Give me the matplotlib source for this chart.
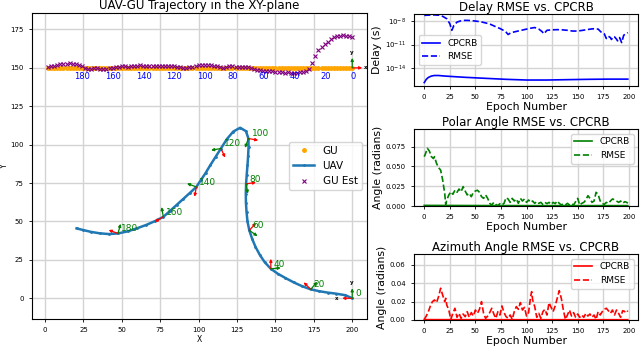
import math
import matplotlib.pyplot as plt
from matplotlib.ticker import NullLocator

# ==============================
# dados da trajetória (XY)
# ==============================
uav_epoch = list(range(0, 200, 4)) + [199]
uav_x = [200, 195.5, 189.5, 184, 178.5, 173, 167.5, 162, 156.5, 151.5,
         147, 143, 139.8, 137, 134.8, 133, 131.8, 131.2, 130.8, 130.7,
         130.9, 131.3, 131.8, 132.2, 132.5, 132.4, 130.8, 127, 122.5, 118.3,
         114.5, 111, 107.5, 104.5, 101.5, 98.5, 94.2, 89.9, 85.6, 81.3,
         77, 71.5, 66, 60, 54, 47.5, 41.5, 35.5, 30, 24.5, 20.5]
uav_y = [0, 2.0, 3.0, 3.7, 4.6, 5.8, 7.8, 10.3, 13.2, 16.0,
         19.2, 23.5, 28.3, 33.5, 38.8, 44.2, 50, 56, 62, 68.2,
         74.5, 80.5, 86.5, 92.5, 98.5, 104, 108.8, 111, 108.5, 103.5,
         97.5, 92, 86.5, 81.5, 77, 72.5, 68.5, 64.6, 60.7, 56.8,
         53, 50.2, 47.8, 45.6, 43.6, 42.2, 41.8, 42.3, 43.2, 44.5, 45.5]

gu_epoch = list(range(0, 200, 2))
gu_x = list(range(200, 0, -2))
gu_y = [150] * len(gu_x)
gu_est_y = [170, 170.5, 171, 171.5, 171, 170.5, 170, 168.5, 167, 165.5,
            163.5, 161.5, 158, 153, 149, 148, 147.5, 147, 146.8, 146.5,
            146.5, 147, 146.8, 147, 147.3, 147.5, 147.8, 148, 148, 148.2,
            148.3, 148.8, 149.3, 150, 150.4, 150.6, 150.8, 150.5, 150.7, 151,
            151, 150.5, 150, 150.3, 151, 151.5, 151.8, 152, 152, 151.7,
            151.7, 151, 150.6, 150.3, 150, 150, 150.3, 150.7, 151, 151,
            151, 151.2, 151.3, 151.2, 151.4, 151.3, 151.5, 151.3, 151.5, 151.7,
            151.5, 151.2, 151, 150.7, 151, 151, 150.5, 150.3, 150, 149.7,
            149.3, 149.5, 149.5, 150, 150, 149.5, 149, 150, 151, 151.8,
            152.3, 152.6, 153, 152.8, 152.6, 152.3, 152, 151.5, 151, 150.8]

# orientação do UAV (graus) nas épocas marcadas
frame_epoch = [0, 20, 40, 60, 80, 100, 120, 140, 160, 180]
frame_x_ang = [180, 135, 90, 48, 8, -10, -65, -100, -150, 160]
frame_y_ang = [90, 50, 5, -35, -80, -110, 190, 160, 100, 75]

# ==============================
# dados dos erros
# ==============================
delay_ep = [0, 5, 10, 15, 18, 22, 25, 27, 29, 32, 36, 40, 45, 50, 55, 60, 65, 70,
            74, 78, 80, 82, 85, 90, 95, 100, 104, 108, 112, 115, 117, 120, 125,
            130, 135, 140, 145, 150, 155, 160, 165, 170, 173, 176, 178, 180, 182,
            183, 185, 186, 188, 189, 191, 193, 195, 197, 199]
delay_rmse = [6.0e-8, 6.5e-8, 6.8e-8, 6.2e-8, 4.5e-8, 2.2e-8, 5e-9, 7e-10, 3e-9,
              8e-9, 1.2e-8, 1.35e-8, 1.3e-8, 1.1e-8, 9e-9, 6.3e-9, 4e-9, 2e-9,
              1.2e-9, 6.3e-10, 4e-10, 2e-10, 3.5e-10, 5e-10, 7e-10, 1e-9, 1.3e-9,
              1.6e-9, 1e-9, 5e-10, 2.5e-10, 7e-10, 8e-10, 8.5e-10, 8e-10, 7e-10,
              5.6e-10, 5.6e-10, 7e-10, 9e-10, 1.1e-9, 1e-9, 4e-10, 2.5e-10, 6e-11,
              1.2e-10, 8e-11, 4.5e-11, 1.1e-10, 1e-10, 5e-11, 3e-11, 8e-11, 1.8e-11,
              1.6e-10, 2.5e-10, 3.5e-10]
delay_crb_ep = [0, 2, 4, 7, 10, 14, 20, 30, 40, 60, 80, 100, 120, 140, 160, 180, 199]
delay_crb = [1.2e-16, 3.2e-16, 5.6e-16, 8.5e-16, 1e-15, 1e-15, 8.5e-16, 7e-16, 5.8e-16,
             4.3e-16, 3.2e-16, 2.6e-16, 2.6e-16, 2.9e-16, 3.2e-16, 3.4e-16, 3.4e-16]

polar_ep = [0, 1, 3, 5, 7, 9, 10, 12, 14, 16, 18, 20, 21] + list(range(22, 200, 2)) + [199]
polar_rmse = [0.0624, 0.0653, 0.073, 0.0696, 0.0624, 0.060, 0.0624, 0.054, 0.0485,
              0.0455, 0.033, 0.016, 0.002,
              0.0076, 0.0139, 0.018, 0.0148, 0.020, 0.0173, 0.0215, 0.018, 0.0245,
              0.019, 0.014, 0.016, 0.0118, 0.0173, 0.019, 0.020, 0.0173, 0.0118,
              0.0097, 0.014, 0.0097, 0.0034, 0.0013, 0.0046, 0.002, 0.0004, 0.003,
              0.0013, 0.0034, 0.0105, 0.0089, 0.0046, 0.0097, 0.0063, 0.0089, 0.0034,
              0.0097, 0.0063, 0.0089, 0.0046, 0.0076, 0.0046, 0.0063, 0.0034, 0.0055,
              0.0034, 0.0046, 0.002, 0.0046, 0.003, 0.0046, 0.002, 0.0046, 0.003,
              0.0063, 0.0034, 0.0013, 0.003, 0.0013, 0.0034, 0.0013, 0.003, 0.0013,
              0.0055, 0.0097, 0.0013, 0.0034, 0.0046, 0.0076, 0.0131, 0.0097, 0.0046,
              0.0063, 0.0173, 0.0148, 0.0063, 0.0034, 0.002, 0.0046, 0.0034, 0.0063,
              0.0089, 0.008, 0.0063, 0.0046, 0.0063, 0.0034, 0.0055, 0.0046, 0.0034]
polar_crb_ep = [0, 20, 50, 100, 150, 199]
polar_crb = [0.0008, 0.0007, 0.0006, 0.0005, 0.0005, 0.0005]

azim_ep = ([0, 2, 4, 6, 8, 10, 12, 14, 16, 17, 18, 20, 21, 22] + list(range(24, 104, 2))
           + [104, 105, 106] + list(range(108, 200, 2)) + [199])
azim_rmse = [0.0007, 0.0043, 0.009, 0.0152, 0.0199, 0.0217, 0.0188, 0.0253, 0.0344,
             0.0307, 0.0271, 0.0199, 0.0235, 0.0163,
             0.0108, 0.0007, 0.0072, 0.0127, 0.0029, 0.0072, 0.0018, 0.0065, 0.0036,
             0.009, 0.0029, 0.008, 0.0043, 0.0108, 0.0072, 0.0116, 0.0199, 0.0072,
             0.0018, 0.0043, 0.008, 0.0127, 0.0065, 0.0018, 0.009, 0.0054, 0.0152,
             0.008, 0.0036, 0.0018, 0.0054, 0.0007, 0.009, 0.0145, 0.0116, 0.0188,
             0.0108, 0.0137, 0.0043, 0.008,
             0.0253, 0.0307, 0.0217,
             0.0145, 0.0029, 0.0072, 0.0018, 0.009, 0.0116, 0.0054, 0.0188, 0.0137,
             0.009, 0.0152, 0.0235, 0.0318, 0.0235, 0.0108, 0.0007, 0.0054, 0.0108,
             0.0043, 0.008, 0.0029, 0.0065, 0.0029, 0.0054, 0.0029, 0.0072, 0.0043,
             0.0065, 0.0029, 0.0054, 0.0007, 0.009, 0.0054, 0.009, 0.0116, 0.0127,
             0.0101, 0.0072, 0.0108, 0.0054, 0.0108, 0.0072, 0.0029, 0.0101, 0.009,
             0.0108, 0.009]
azim_crb_ep = [0, 50, 100, 150, 199]
azim_crb = [0.0004, 0.0003, 0.0003, 0.0003, 0.0003]

# ==============================
# figura
# ==============================
fig = plt.figure(figsize=(6.4, 3.48), dpi=100)
grid_kw = dict(color='#d3d3d3', linewidth=1.0)


def seta(ax, x0, y0, ang, cor, comp=6.5):
    dx = comp * math.cos(math.radians(ang))
    dy = comp * math.sin(math.radians(ang))
    ax.annotate('', xy=(x0 + dx, y0 + dy), xytext=(x0, y0),
                arrowprops=dict(arrowstyle='-|>', color=cor, lw=0.9,
                                mutation_scale=4, shrinkA=0, shrinkB=0))


# ---- trajetória ----
ax = fig.add_axes([0.05, 0.0833, 0.5234, 0.8793])
ax.plot(gu_x, gu_y, linestyle='none', marker='.', markersize=5, color='orange', label='GU')
ax.plot(uav_x, uav_y, color='#1f77b4', lw=1.8, marker='.', markersize=2, label='UAV')
ax.plot(gu_x, gu_est_y, linestyle='none', marker='x', markersize=3, mew=0.8,
        color='purple', label='GU Est')

for e in frame_epoch:
    i = gu_epoch.index(e)
    ax.text(gu_x[i] - 1, 144.5, str(e), color='blue', fontsize=6, ha='left', va='center')

for e, a_x, a_y in zip(frame_epoch, frame_x_ang, frame_y_ang):
    i = uav_epoch.index(e)
    seta(ax, uav_x[i], uav_y[i], a_x, 'red')
    seta(ax, uav_x[i], uav_y[i], a_y, 'green')
    ax.text(uav_x[i] + 2, uav_y[i] + 3, str(e), color='green', fontsize=6.5,
            ha='left', va='center')

# eixos do UAV e do GU no início
ax.text(uav_x[0] - 10, uav_y[0], 'x', fontsize=4, ha='center', va='center', weight='bold')
ax.text(uav_x[0], uav_y[0] + 10, 'y', fontsize=4, ha='center', va='center', weight='bold')
seta(ax, gu_x[0], gu_y[0], 0, 'red')
seta(ax, gu_x[0], gu_y[0], 90, 'green')
ax.text(gu_x[0] + 9, gu_y[0], 'x', fontsize=4, ha='center', va='center', weight='bold',
        clip_on=False)
ax.text(gu_x[0], gu_y[0] + 10, 'y', fontsize=4, ha='center', va='center', weight='bold')

ax.set_xlim(-8.5, 209.6)
ax.set_ylim(-13.5, 185.7)
ax.set_xticks(range(0, 201, 25))
ax.set_yticks(range(0, 176, 25))
ax.tick_params(labelsize=5, length=2.5, width=0.6)
ax.set_xlabel('X', fontsize=5.5, labelpad=1)
ax.set_ylabel('Y', fontsize=5.5)
ax.yaxis.set_label_coords(-0.068, 0.5)
ax.set_title('UAV-GU Trajectory in the XY-plane', fontsize=8.5, pad=3)
ax.grid(True, **grid_kw)
ax.set_axisbelow(True)
ax.legend(loc='center right', fontsize=7.5)

# ---- atraso ----
ax1 = fig.add_axes([0.6469, 0.7529, 0.35, 0.2069])
ax1.semilogy(delay_crb_ep, delay_crb, color='blue', lw=1.2, label='CPCRB')
ax1.semilogy(delay_ep, delay_rmse, color='blue', lw=1.2, ls='--', label='RMSE')
ax1.set_ylim(4.4e-17, 9e-8)
ax1.set_yticks([1e-14, 1e-11, 1e-8])
ax1.yaxis.set_minor_locator(NullLocator())
ax1.set_title('Delay RMSE vs. CPCRB', fontsize=8.5, pad=2)
ax1.set_ylabel('Delay (s)', fontsize=7.8, labelpad=2)
ax1.legend(loc='center left', fontsize=6.5)

# ---- ângulo polar ----
ax2 = fig.add_axes([0.6469, 0.408, 0.35, 0.2204])
ax2.plot(polar_crb_ep, polar_crb, color='green', lw=1.2, label='CPCRB')
ax2.plot(polar_ep, polar_rmse, color='green', lw=1.2, ls='--', label='RMSE')
ax2.set_ylim(0, 0.097)
ax2.set_yticks([0, 0.025, 0.05, 0.075])
ax2.set_title('Polar Angle RMSE vs. CPCRB', fontsize=8.5, pad=2)
ax2.set_ylabel('Angle (radians)', fontsize=7.8, labelpad=2)
ax2.legend(loc='upper right', fontsize=6.5)

# ---- ângulo azimutal ----
ax3 = fig.add_axes([0.6469, 0.0805, 0.35, 0.1888])
ax3.plot(azim_crb_ep, azim_crb, color='red', lw=1.2, label='CPCRB')
ax3.plot(azim_ep, azim_rmse, color='red', lw=1.2, ls='--', label='RMSE')
ax3.set_ylim(0, 0.0712)
ax3.set_yticks([0, 0.02, 0.04, 0.06])
ax3.set_title('Azimuth Angle RMSE vs. CPCRB', fontsize=8.5, pad=2)
ax3.set_ylabel('Angle (radians)', fontsize=7.8, labelpad=2)
ax3.legend(loc='upper right', fontsize=6.5)

for a in (ax1, ax2, ax3):
    a.set_xlim(-10, 209)
    a.set_xticks(range(0, 201, 25))
    a.tick_params(labelsize=5, length=2.5, width=0.6)
    a.set_xlabel('Epoch Number', fontsize=7.8, labelpad=1)
    a.grid(True, **grid_kw)
    a.set_axisbelow(True)

fig.savefig('out.png', dpi=100)
